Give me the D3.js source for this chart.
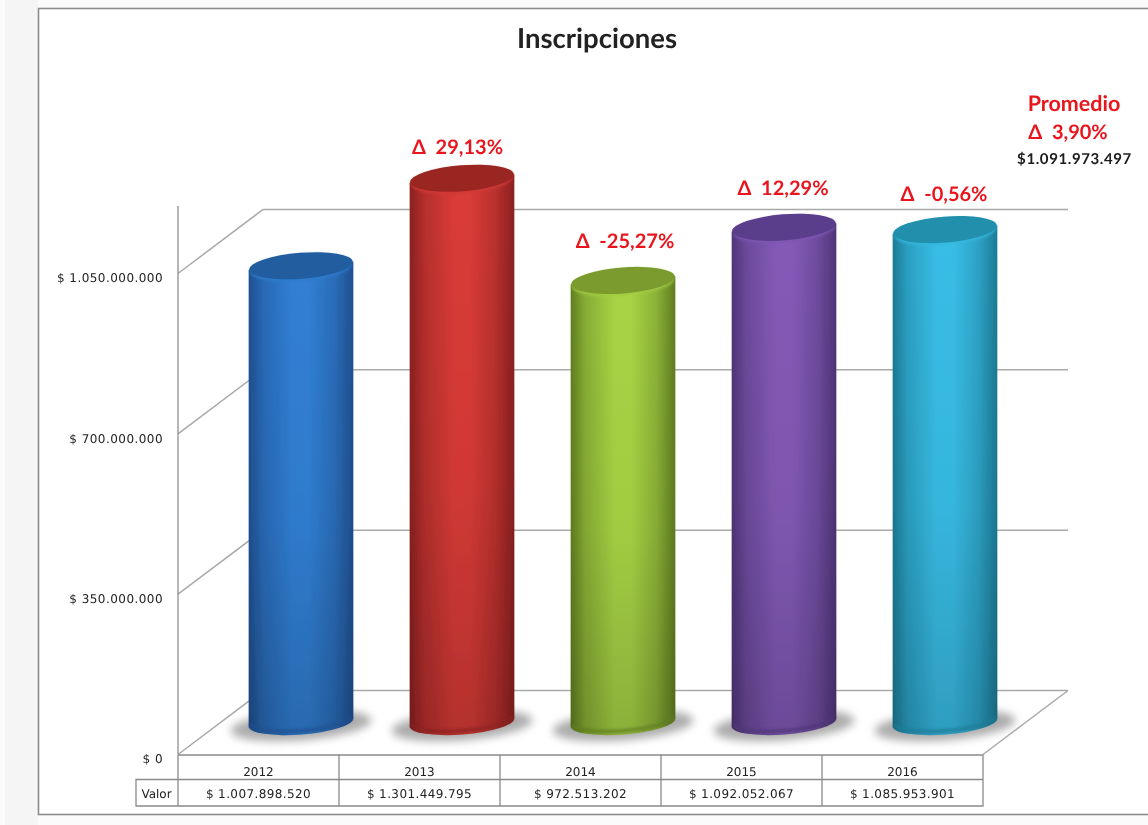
<!DOCTYPE html>
<html>
<head>
<meta charset="utf-8">
<script src="https://cdn.jsdelivr.net/npm/d3@7"></script>
<style>
html,body{margin:0;padding:0;background:#fff;overflow:hidden}
svg{display:block}
text{text-rendering:geometricPrecision}
</style>
</head>
<body>
<svg id="chart" width="1148" height="825"></svg>
<script>
// ---- data ----
const years = ["2012","2013","2014","2015","2016"];
const tableValues = [1007898520,1301449795,972513202,1092052067,1085953901];
// height of each cylinder as drawn, read against the value axis
const drawnLevels = [997000000,1188000000,965000000,1081000000,1076000000];
const deltas = ["29,13%","-25,27%","12,29%","-0,56%"];
const deltaYears = ["2013","2014","2015","2016"];
const axisTicks = [0,350000000,700000000,1050000000];
const titleText = "Inscripciones";
const rowHeader = "Valor";
const avgTitle = "Promedio";
const avgDelta = "3,90%";
const avgValue = 1091973497;

// ---- styling ----
const palette = {
  "2012":{mid:"#317fd4",edge:"#1f4f8f",top:"#235d9f"},
  "2013":{mid:"#d93b37",edge:"#8a2020",top:"#9a2523"},
  "2014":{mid:"#a8d445",edge:"#5f7d20",top:"#7b9b2e"},
  "2015":{mid:"#835ab7",edge:"#4f3478",top:"#5a3d8b"},
  "2016":{mid:"#38bde6",edge:"#1c7a95",top:"#2090ad"}
};
const FONT = "Lato, 'Open Sans', sans-serif";
const AXISFONT = "'DejaVu Sans', sans-serif";
const RED = "#e8171f";
const GRID = "#a9a9a9";

const loc = d3.formatLocale({decimal:",",thousands:".",grouping:[3],currency:["$",""]});
const money = v => "$ " + loc.format(",")(v);

const svg = d3.select("#chart");
const defs = svg.append("defs");

// page background and chart frame
svg.append("rect").attr("width",1148).attr("height",825).attr("fill","#fbfbfb");
svg.append("rect").attr("x",5).attr("width",33).attr("height",825).attr("fill","#f5f5f5");
svg.append("rect").attr("x",38.5).attr("y",8.5).attr("width",1120).attr("height",806)
  .attr("fill","#fff").attr("stroke","#8c8c8c").attr("stroke-width",1.6);

// projection
const depth = {dx:85, dy:-64};
const x = d3.scaleBand().domain(years).range([178,983]);
const y = d3.scaleLinear().domain([0,1050000000]).range([754.5,273.5]);
const mid = {dx:depth.dx/2, dy:depth.dy/2};

const soft = defs.append("filter").attr("id","soft").attr("x","-30%").attr("y","-80%").attr("width","160%").attr("height","260%");
soft.append("feGaussianBlur").attr("stdDeviation",4);
const tiny = defs.append("filter").attr("id","tiny").attr("x","-5%").attr("y","-30%").attr("width","110%").attr("height","160%");
tiny.append("feGaussianBlur").attr("stdDeviation",0.4);
const barBlur = defs.append("filter").attr("id","barBlur").attr("x","-5%").attr("y","-5%").attr("width","110%").attr("height","110%");
barBlur.append("feGaussianBlur").attr("stdDeviation",0.7);
const rimBlur = defs.append("filter").attr("id","rimBlur").attr("x","-10%").attr("y","-50%").attr("width","120%").attr("height","200%");
rimBlur.append("feGaussianBlur").attr("stdDeviation",1.6);

// walls: gridlines via scale
const grid = svg.append("g").attr("fill","none").attr("stroke",GRID).attr("stroke-width",1.5);
axisTicks.forEach(t=>{
  const yy = y(t);
  grid.append("path").attr("d",`M${x.range()[0]},${yy}L${x.range()[0]+depth.dx},${yy+depth.dy}L${x.range()[1]+depth.dx},${yy+depth.dy}`);
});
grid.append("path").attr("d",`M${x.range()[1]},${y(0)}L${x.range()[1]+depth.dx},${y(0)+depth.dy}`);

// value axis
const axis = d3.axisLeft(y).tickValues(axisTicks).tickSize(0).tickPadding(15).tickFormat(money);
const axG = svg.append("g").attr("transform",`translate(${x.range()[0]},0)`).call(axis);
axG.select(".domain").remove();
axG.selectAll("text").attr("font-family",AXISFONT).attr("font-size",12).attr("letter-spacing",0.45)
   .attr("fill","#222").attr("dy","0.82em").attr("y",-1.5).attr("filter","url(#tiny)");
svg.append("line").attr("x1",178).attr("x2",178).attr("y1",206).attr("y2",y(0))
   .attr("stroke","#8f8f8f").attr("stroke-width",1.3);

// cylinders
const rx = 52.5, ry = 12, capRy = 13, tilt = -4.5;
const rad = Math.abs(tilt)*Math.PI/180;
const ex = rx*Math.cos(rad), ey = rx*Math.sin(rad);

years.forEach(yr=>{
  const c = palette[yr], mix = d3.interpolateRgb(c.edge,c.mid);
  const g = defs.append("linearGradient").attr("id","b"+yr).attr("x1",0).attr("x2",1).attr("y1",0).attr("y2",0);
  [[0,c.edge],[0.14,mix(0.55)],[0.42,c.mid],[0.58,c.mid],[0.82,mix(0.6)],[1,c.edge]]
    .forEach(s=>g.append("stop").attr("offset",s[0]).attr("stop-color",s[1]));
});
const shade = defs.append("linearGradient").attr("id","shade").attr("x1",0).attr("x2",0).attr("y1",0).attr("y2",1);
[[0,0],[0.55,0.04],[1,0.17]].forEach(s=>shade.append("stop").attr("offset",s[0]).attr("stop-color","#000").attr("stop-opacity",s[1]));

const bars = svg.append("g").selectAll("g").data(years).join("g");

bars.each(function(yr,i){
  const c = palette[yr], s = d3.select(this);
  const cx = x(yr)+x.bandwidth()/2+mid.dx;
  const yBase = y(0)+mid.dy;
  const yTop = y(drawnLevels[i])+mid.dy;
  const rot = `rotate(${tilt} ${cx} `;
  // floor shadow
  s.append("ellipse").attr("cx",cx).attr("cy",yBase+3).attr("rx",rx+18).attr("ry",ry+3)
    .attr("transform",rot+`${yBase+3})`).attr("fill","#7a7a7a").attr("opacity",0.62).attr("filter","url(#soft)");
  const cyl = s.append("g").attr("filter","url(#barBlur)");
  // body
  const body = `M${cx-ex},${yTop+ey}L${cx-ex},${yBase+ey}A${rx},${ry} ${tilt} 0 0 ${cx+ex},${yBase-ey}L${cx+ex},${yTop-ey}Z`;
  cyl.append("path").attr("d",body).attr("fill",`url(#b${yr})`);
  cyl.append("path").attr("d",body).attr("fill","url(#shade)");
  // dark lower rim
  cyl.append("path").attr("d",`M${cx-ex+1.5},${yBase+ey-1}A${rx},${ry} ${tilt} 0 0 ${cx+ex-1.5},${yBase-ey-1}`)
    .attr("fill","none").attr("stroke",c.edge).attr("stroke-width",2.6).attr("filter","url(#rimBlur)");
  // soft light band below the cap
  cyl.append("ellipse").attr("cx",cx).attr("cy",yTop+2).attr("rx",rx-1.5).attr("ry",capRy)
    .attr("transform",rot+`${yTop+2})`).attr("fill",d3.interpolateRgb(c.mid,c.top)(0.15)).attr("filter","url(#rimBlur)");
  // cap
  cyl.append("ellipse").attr("cx",cx).attr("cy",yTop).attr("rx",rx-0.5).attr("ry",capRy)
    .attr("transform",rot+`${yTop})`).attr("fill",c.top);
});

// data table
const tbl = svg.append("g").attr("fill","none").attr("stroke","#8a8a8a").attr("stroke-width",1.3);
const tTop = 755, tMid = 779.5, tBot = 806, tLeft = 136;
tbl.append("path").attr("d",`M${x.range()[0]},${tTop}H${x.range()[1]}V${tBot}H${tLeft}V${tMid}H${x.range()[1]}`);
[x.range()[0]].concat(years.map(d=>x(d)+x.bandwidth()).slice(0,-1)).forEach(px=>{
  tbl.append("line").attr("x1",px).attr("x2",px).attr("y1",tTop).attr("y2",tBot);
});
const cellText = (sel)=>sel.attr("text-anchor","middle").attr("font-family",AXISFONT).attr("font-size",12)
  .attr("letter-spacing",0.4).attr("fill","#222").attr("filter","url(#tiny)");
svg.append("g").selectAll("text").data(years).join("text").call(cellText)
  .attr("x",d=>x(d)+x.bandwidth()/2).attr("y",776).attr("letter-spacing",0).text(d=>d);
svg.append("g").selectAll("text").data(tableValues).join("text").call(cellText)
  .attr("x",(d,i)=>x(years[i])+x.bandwidth()/2).attr("y",798).text(d=>money(d));
svg.append("text").call(cellText).attr("x",156.5).attr("y",798).attr("letter-spacing",0).text(rowHeader);

// title
svg.append("text").attr("x",597).attr("y",47.5).attr("text-anchor","middle")
  .attr("font-family",FONT).attr("font-weight",700).attr("font-size",27.5).attr("fill","#222")
  .attr("filter","url(#tiny)").text(titleText);

// delta labels
const deltaLift = {"2013":24,"2014":32,"2015":32,"2016":28.5};
const deltaShift = {"2013":-4.5,"2014":2,"2015":-1,"2016":-1};
const redText = sel=>sel.attr("font-family",FONT).attr("font-weight",700).attr("font-size",20)
  .attr("fill",RED).attr("filter","url(#tiny)");
svg.append("g").selectAll("text").data(deltaYears).join("text").call(redText)
  .attr("text-anchor","middle")
  .attr("x",d=>x(d)+x.bandwidth()/2+mid.dx+deltaShift[d])
  .attr("y",d=>y(drawnLevels[years.indexOf(d)])+mid.dy-deltaLift[d])
  .style("white-space","pre")
  .text((d,i)=>"Δ  "+deltas[i]);

// average block
svg.append("text").call(redText).attr("x",1074).attr("y",111).attr("text-anchor","middle").attr("font-size",21.5).text(avgTitle);
svg.append("text").call(redText).attr("x",1068).attr("y",139).attr("text-anchor","middle").style("white-space","pre").text("Δ  "+avgDelta);
svg.append("text").attr("x",1074.5).attr("y",164).attr("text-anchor","middle")
  .attr("font-family",FONT).attr("font-weight",700).attr("font-size",15).attr("letter-spacing",0.6).attr("fill","#1a1a1a")
  .attr("filter","url(#tiny)").text("$"+loc.format(",")(avgValue));
</script>
</body>
</html>
